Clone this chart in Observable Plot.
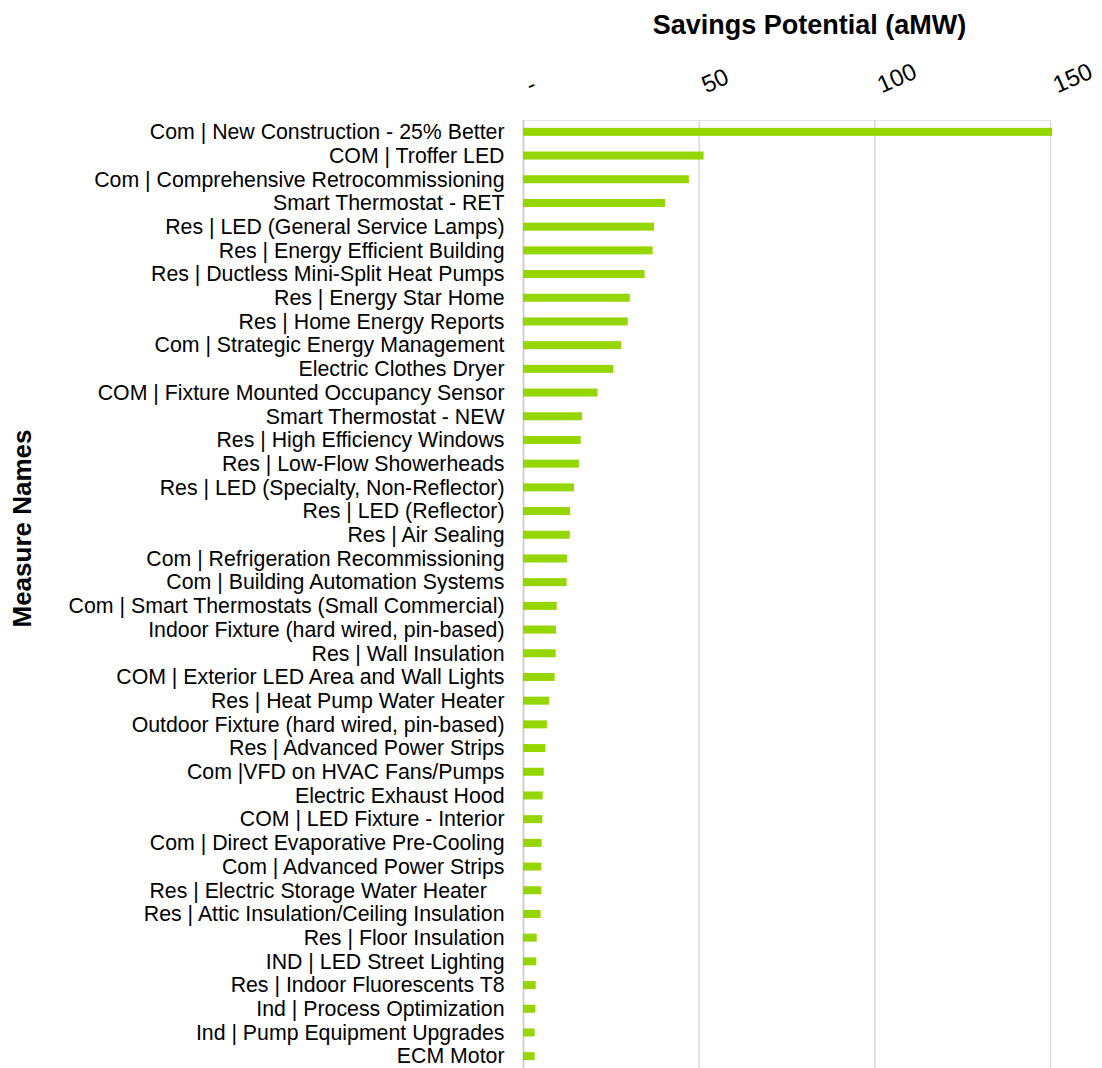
<!DOCTYPE html>
<html>
<head>
<meta charset="utf-8">
<script src="https://cdn.jsdelivr.net/npm/d3@7"></script>
<script src="https://cdn.jsdelivr.net/npm/@observablehq/plot@0.6"></script>
<style>
  html, body { margin: 0; padding: 0; background: #fff; }
  #chart svg { display: block; }
</style>
</head>
<body>
<div id="chart"></div>
<script>
const measures = [
  "Com | New Construction - 25% Better",
  "COM | Troffer LED",
  "Com | Comprehensive Retrocommissioning",
  "Smart Thermostat - RET",
  "Res | LED (General Service Lamps)",
  "Res | Energy Efficient Building",
  "Res | Ductless Mini-Split Heat Pumps",
  "Res | Energy Star Home",
  "Res | Home Energy Reports",
  "Com | Strategic Energy Management",
  "Electric Clothes Dryer",
  "COM | Fixture Mounted Occupancy Sensor",
  "Smart Thermostat - NEW",
  "Res | High Efficiency Windows",
  "Res | Low-Flow Showerheads",
  "Res | LED (Specialty, Non-Reflector)",
  "Res | LED (Reflector)",
  "Res | Air Sealing",
  "Com | Refrigeration Recommissioning",
  "Com | Building Automation Systems",
  "Com | Smart Thermostats (Small Commercial)",
  "Indoor Fixture (hard wired, pin-based)",
  "Res | Wall Insulation",
  "COM | Exterior LED Area and Wall Lights",
  "Res | Heat Pump Water Heater",
  "Outdoor Fixture (hard wired, pin-based)",
  "Res | Advanced Power Strips",
  "Com |VFD on HVAC Fans/Pumps",
  "Electric Exhaust Hood",
  "COM | LED Fixture - Interior",
  "Com | Direct Evaporative Pre-Cooling",
  "Com | Advanced Power Strips",
  "Res | Electric Storage Water Heater\u00a0\u00a0\u00a0",
  "Res | Attic Insulation/Ceiling Insulation",
  "Res | Floor Insulation",
  "IND | LED Street Lighting",
  "Res | Indoor Fluorescents T8",
  "Ind | Process Optimization",
  "Ind | Pump Equipment Upgrades",
  "ECM Motor"
];

const savings = [
  150.6, 51.4, 47.2, 40.4, 37.3, 36.9, 34.6, 30.4, 29.8, 27.9,
  25.7, 21.2, 16.8, 16.4, 15.9, 14.5, 13.4, 13.3, 12.5, 12.4,
  9.6, 9.4, 9.3, 9.0, 7.4, 6.8, 6.4, 5.9, 5.6, 5.5,
  5.3, 5.2, 5.2, 5.0, 3.9, 3.8, 3.6, 3.5, 3.3, 3.3
];

const tickValues = [0, 50, 100, 150];
const tickLabels = ["-", "50", "100", "150"];

const xTitle = "Savings Potential (aMW)";
const yTitle = "Measure Names";

const data = measures.map((m, i) => ({measure: m, value: savings[i]}));
const ticks = tickValues.map((v, i) => ({v, label: tickLabels[i]}));

const chart = Plot.plot({
  width: 1102,
  height: 1068,
  marginTop: 120,
  marginBottom: 0,
  marginLeft: 523,
  marginRight: 52,
  style: {fontFamily: "'Liberation Sans', Arial, sans-serif", fontSize: "21px", color: "#000", background: "#fff"},
  x: {domain: [0, 150], axis: null},
  y: {domain: measures, padding: 0, round: false, axis: null},
  marks: [
    Plot.frame({anchor: "top", stroke: "#e4e4e4", strokeWidth: 1}),
    Plot.gridX([50, 100, 150], {stroke: "#d9d9d9", strokeOpacity: 1, strokeWidth: 1.5}),
    Plot.ruleX([0], {stroke: "#d0d0d0", strokeWidth: 2}),
    Plot.barX(data, {x: "value", y: "measure", fill: "#95d600", insetTop: 7.85, insetBottom: 7.85}),
    Plot.axisY({tickSize: 0, tickPadding: 19, fontSize: 21.3, label: null, fill: "#000"}),
    Plot.text(ticks, {x: "v", text: "label", frameAnchor: "top", dx: 7, dy: -27, rotate: -24, textAnchor: "start", lineAnchor: "bottom", fontSize: 24, fill: "#000"}),
    Plot.text([xTitle], {frameAnchor: "top", textAnchor: "middle", dx: 22.5, dy: -87, lineAnchor: "bottom", fontSize: 27, fontWeight: "bold", fill: "#000"}),
    Plot.text([yTitle], {frameAnchor: "left", textAnchor: "middle", dx: -501, dy: -66, rotate: -90, fontSize: 26, fontWeight: "bold", fill: "#000"})
  ]
});
document.getElementById("chart").appendChild(chart);
</script>
</body>
</html>
